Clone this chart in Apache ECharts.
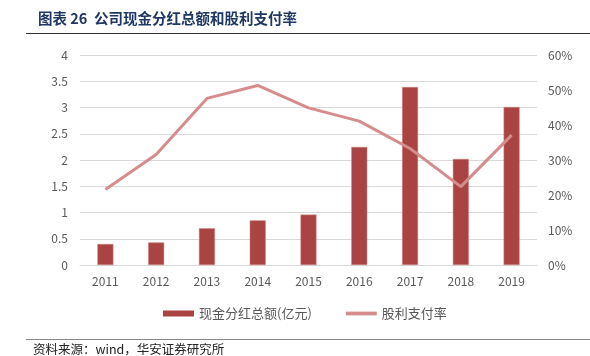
<!DOCTYPE html>
<html><head><meta charset="utf-8">
<script src="https://cdn.jsdelivr.net/npm/echarts@6/dist/echarts.min.js"></script>
<style>html,body{margin:0;padding:0;background:#fff}#c{width:590px;height:356px}</style>
</head><body><div id="c"></div>
<script>
var categories = ['2011','2012','2013','2014','2015','2016','2017','2018','2019'];
var dividend = [0.40, 0.43, 0.70, 0.85, 0.96, 2.25, 3.39, 2.02, 3.01];
var payoutRatio = [21.6, 31.6, 47.6, 51.3, 44.9, 41.1, 33.3, 22.4, 37.1];
var leftTicks = ['0','0.5','1','1.5','2','2.5','3','3.5','4'];
var rightTicks = ['0%','10%','20%','30%','40%','50%','60%'];

var chart = echarts.init(document.getElementById('c'));
var font = '"Noto Sans CJK SC", "Noto Sans", sans-serif';
chart.setOption({
  animation: false,
  textStyle: {fontFamily: font},
  graphic: [
    {type:'text', left: 38, top: 11, style:{text:'图表 26  公司现金分红总额和股利支付率', fill:'#1F3864', font:'bold 14.5px "Noto Sans CJK SC"'}},
    {type:'line', shape:{x1:26, y1:33.5, x2:590, y2:33.5}, style:{stroke:'#333', lineWidth:1}},
    {type:'line', shape:{x1:26, y1:339.5, x2:590, y2:339.5}, style:{stroke:'#888', lineWidth:1}},
    {type:'text', left: 33, top: 343, style:{text:'资料来源：wind，华安证券研究所', fill:'#222', font:'12.5px "Noto Sans CJK SC"'}}
  ],
  grid: {left: 80, right: 53, top: 55, bottom: 91},
  legend: {
    left: 158, top: 302, itemGap: 34, itemWidth: 31, itemHeight: 6,
    textStyle: {color:'#595959', fontSize: 13, fontFamily: font},
    data: [
      {name:'现金分红总额(亿元)', icon:'rect', itemStyle:{color:'#A94442', borderWidth:0}},
      {name:'股利支付率', icon:'path://M0,0 L33,0 L33,4 L0,4 Z', itemStyle:{color:'#D48C8C', borderWidth:0}}
    ]
  },
  xAxis: {
    type: 'category', data: categories,
    axisLine: {show: true, lineStyle:{color:'#D9D9D9'}},
    axisTick: {show: false},
    axisLabel: {color:'#595959', fontSize: 12, margin: 10, fontFamily: font}
  },
  yAxis: [
    {type:'value', min:0, max:4, interval:0.5,
     axisLabel:{color:'#595959', fontSize:12, margin: 12, fontFamily: font, formatter:function(v){return leftTicks[Math.round(v*2)];}},
     splitLine:{lineStyle:{color:'#D9D9D9'}}, axisLine:{show:false}, axisTick:{show:false}},
    {type:'value', min:0, max:60, interval:10,
     axisLabel:{color:'#595959', fontSize:12, margin: 11, fontFamily: font, formatter:function(v){return rightTicks[Math.round(v/10)];}},
     splitLine:{show:false}, axisLine:{show:false}, axisTick:{show:false}}
  ],
  series: [
    {name:'现金分红总额(亿元)', type:'bar', data: dividend, barWidth: 16,
     itemStyle:{color:'#A94442', borderColor:'#C98A88', borderWidth:0.5}},
    {name:'股利支付率', type:'line', yAxisIndex:1, data: payoutRatio,
     symbol:'none', lineStyle:{color:'#D48C8C', width:3}, itemStyle:{color:'#D48C8C'}}
  ]
});
</script></body></html>
